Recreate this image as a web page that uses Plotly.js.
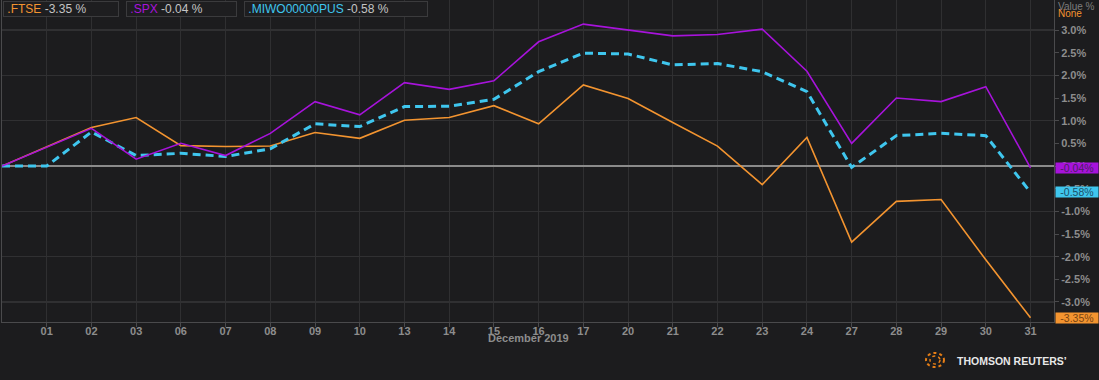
<!DOCTYPE html>
<html>
<head>
<meta charset="utf-8">
<script src="https://cdn.plot.ly/plotly-3.0.1.min.js"></script>
<style>
html,body{margin:0;padding:0;background:#1c1c1e;}
#chart{width:1099px;height:380px;}
</style>
</head>
<body>
<div id="chart"></div>
<script>
// Trading days (first point is 29 Nov 2019, the base), December 2019
const days = ["Nov 29","01","02","03","06","07","08","09","10","13","14","15","16","17","20","21","22","23","24","27","28","29","30","31"];
const ftse = [0, 0.42, 0.85, 1.07, 0.45, 0.43, 0.44, 0.74, 0.61, 1.01, 1.07, 1.33, 0.93, 1.79, 1.49, 0.96, 0.44, -0.41, 0.63, -1.68, -0.78, -0.74, -2.07, -3.35];
const spx  = [0, 0.42, 0.83, 0.15, 0.50, 0.23, 0.72, 1.42, 1.13, 1.84, 1.69, 1.88, 2.74, 3.13, 3.00, 2.87, 2.90, 3.02, 2.09, 0.50, 1.50, 1.42, 1.75, -0.04];
const miwo = [0, 0, 0.75, 0.23, 0.28, 0.21, 0.38, 0.93, 0.87, 1.31, 1.32, 1.47, 2.08, 2.49, 2.47, 2.23, 2.26, 2.08, 1.64, -0.03, 0.67, 0.72, 0.67, -0.58];
const seriesNames = [".FTSE", ".SPX", ".MIWO00000PUS"];
const lastValues = ["-3.35", "-0.04", "-0.58"];
const tickLabels = days.slice(1);
const yTickVals = [-3.0, -2.5, -2.0, -1.5, -1.0, -0.5, 0.0, 0.5, 1.0, 1.5, 2.0, 2.5, 3.0];
const yTickText = ["-3.0%", "-2.5%", "-2.0%", "-1.5%", "-1.0%", "-0.5%", "0.0%", "0.5%", "1.0%", "1.5%", "2.0%", "2.5%", "3.0%"];
const xAxisTitle = "December 2019";

const C_FTSE = "#f39430", C_SPX = "#a713db", C_MIWO = "#3fc6ee";
const idx = days.map((d, i) => i);

const W = 1099, H = 380, L = 2, R = 45, T = 0, B = 58;
const PW = W - L - R, PH = H - T - B;
const px = x => (x - L) / PW;
const py = y => (H - B - y) / PH;

const gray = "#8d8d8d";
const FONT = "Liberation Sans, Arial, sans-serif";

const traces = [
  {x: [0], y: [0], yaxis: "y2", type: "scatter", mode: "markers", marker: {opacity: 0}, hoverinfo: "skip"},
  {x: idx, y: ftse, type: "scatter", mode: "lines", line: {color: C_FTSE, width: 1.6}, name: seriesNames[0]},
  {x: idx, y: miwo, type: "scatter", mode: "lines", line: {color: C_MIWO, width: 3, dash: "8px,5px"}, name: seriesNames[2]},
  {x: idx, y: spx, type: "scatter", mode: "lines", line: {color: C_SPX, width: 1.6}, name: seriesNames[1]}
];

const yr = [-(PH - 166) / 45.33, 166 / 45.33];

const ann = [];
const boxes = [
  {left: 3, width: 114, color: C_FTSE, i: 0},
  {left: 126, width: 109, color: C_SPX, i: 1},
  {left: 244, width: 182, color: C_MIWO, i: 2}
];
boxes.forEach(b => {
  ann.push({
    xref: "paper", yref: "paper", x: px(b.left), y: py(1), xanchor: "left", yanchor: "top",
    width: b.width, height: 14, align: "left", showarrow: false,
    bgcolor: "#1e1e20", bordercolor: "#3b3b3d", borderwidth: 1, borderpad: 0,
    text: '&nbsp;<span style="color:' + b.color + '">' + seriesNames[b.i] + '</span> <span style="color:#c4c4c4">' + lastValues[b.i] + ' %</span>',
    font: {family: FONT, size: 12, color: "#c4c4c4"}
  });
});
[[lastValues[1], spx[spx.length-1], C_SPX, "#4a2060"], [lastValues[2], miwo[miwo.length-1], C_MIWO, "#1d5068"], [lastValues[0], ftse[ftse.length-1], C_FTSE, "#7a4512"]].forEach(v => {
  ann.push({
    xref: "paper", yref: "y", x: 1, y: v[1], xanchor: "left", yanchor: "middle",
    xshift: 1, width: 42, height: 10, align: "center", showarrow: false,
    bgcolor: v[2], borderpad: 0, text: v[0] + "%",
    font: {family: FONT, size: 10.5, color: v[3]}
  });
});
ann.push({xref: "paper", yref: "paper", x: px(1056), y: py(6), xanchor: "left", yanchor: "middle", showarrow: false,
  text: "Value %", font: {family: FONT, size: 10, color: "#7d7d7d"}});
ann.push({xref: "paper", yref: "paper", x: px(1056), y: py(14), xanchor: "left", yanchor: "middle", showarrow: false,
  text: "None", font: {family: FONT, size: 10, color: C_FTSE}});
ann.push({xref: "paper", yref: "paper", x: px(528), y: py(338), xanchor: "center", yanchor: "middle", showarrow: false,
  text: "<b>" + xAxisTitle + "</b>", font: {family: FONT, size: 11, color: gray}});
ann.push({xref: "paper", yref: "paper", x: px(955), y: py(361), xanchor: "left", yanchor: "middle", showarrow: false,
  text: "<b>THOMSON REUTERS’</b>", font: {family: FONT, size: 10.5, color: "#e8e8e8"}});

const shapes = [
  {type: "circle", xref: "paper", yref: "paper", xsizemode: "pixel", ysizemode: "pixel",
   xanchor: px(935), yanchor: py(360), x0: -9, x1: 9, y0: -7, y1: 7,
   line: {color: "#e67e16", width: 2, dash: "dot"}},
  {type: "circle", xref: "paper", yref: "paper", xsizemode: "pixel", ysizemode: "pixel",
   xanchor: px(935), yanchor: py(360), x0: -5, x1: 5, y0: -4, y1: 4,
   line: {color: "#e67e16", width: 1.5, dash: "dot"}}
];

const layout = {
  width: W, height: H,
  margin: {l: L, r: R, t: T, b: B, pad: 0},
  paper_bgcolor: "#1c1c1e", plot_bgcolor: "#1c1c1e",
  showlegend: false,
  font: {family: FONT, color: gray},
  xaxis: {
    type: "linear", range: [0, 23.525], tickmode: "array",
    tickvals: idx.slice(1), ticktext: tickLabels,
    showgrid: true, gridcolor: "#2f2f31", gridwidth: 1,
    zeroline: false, showline: true, linecolor: "#4a4a4c", linewidth: 1,
    ticks: "outside", ticklen: 4, tickcolor: "#4a4a4c", ticklabelstandoff: -5,
    tickfont: {family: FONT, size: 11, color: gray, weight: "bold"},
    fixedrange: true
  },
  yaxis: {
    side: "right", range: yr, tickmode: "array", tickvals: yTickVals, ticktext: yTickText,
    showgrid: false, zeroline: false, showline: true, linecolor: "#4a4a4c", linewidth: 1,
    ticks: "outside", ticklen: 4, tickcolor: "#4a4a4c",
    tickfont: {family: FONT, size: 11, color: gray, weight: "bold"},
    fixedrange: true
  },
  yaxis2: {
    overlaying: "y", side: "left", range: yr, tickmode: "linear", tick0: 0, dtick: 1,
    showticklabels: false, showgrid: true, gridcolor: "#303032", gridwidth: 1.5,
    zeroline: true, zerolinecolor: "#8a8a8a", zerolinewidth: 1.5,
    showline: true, linecolor: "#4a4a4c", linewidth: 1, ticks: "", fixedrange: true
  },
  annotations: ann,
  shapes: shapes
};

Plotly.newPlot("chart", traces, layout, {displayModeBar: false, staticPlot: true});
</script>
</body>
</html>
